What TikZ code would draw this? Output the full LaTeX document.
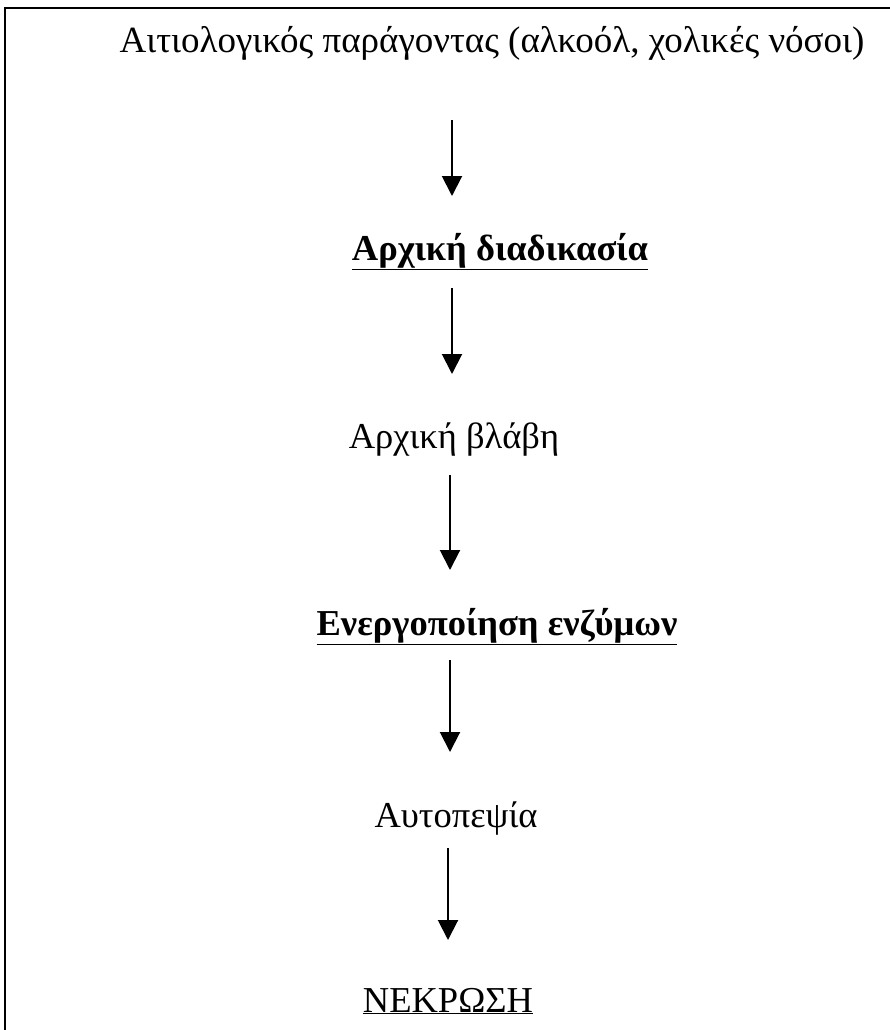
\documentclass[tikz,border=0pt]{standalone}
\usepackage{fontspec}
\setmainfont{Liberation Serif}
\usetikzlibrary{arrows.meta}
\begin{document}
\begin{tikzpicture}[x=1pt,y=-1pt,
  lbl/.style={inner sep=0pt, anchor=base, font=\fontsize{36.5}{42}\selectfont},
  blbl/.style={lbl, font=\fontsize{36.5}{42}\selectfont\bfseries},
  flow/.style={line width=2pt, -{Triangle[width=20pt,length=20pt]}},
  frame/.style={line width=2.5pt}]
\useasboundingbox (0,0) rectangle (890,1030);
\coordinate (tl) at (5,8);
\coordinate (tr) at (890,8);
\coordinate (bl) at (5,1030);
\draw[frame] (tr) -- (tl) -- (bl);
\node[lbl, font=\fontsize{37}{42}\selectfont] (a) at (492,53) {Αιτιολογικός παράγοντας (αλκοόλ, χολικές νόσοι)};
\node[blbl] (b) at (500,260) {\underline{Αρχική διαδικασία}};
\node[lbl] (c) at (454,448) {Αρχική βλάβη};
\node[blbl] (d) at (497,635) {\underline{Ενεργοποίηση ενζύμων}};
\node[lbl] (e) at (456,827) {Αυτοπεψία};
\node[lbl] (f) at (448,1012) {\underline{ΝΕΚΡΩΣΗ}};
\coordinate (a1) at (452,120); \coordinate (a2) at (452,196);
\coordinate (b1) at (452,288); \coordinate (b2) at (452,374);
\coordinate (c1) at (450,475); \coordinate (c2) at (450,570);
\coordinate (d1) at (450,660); \coordinate (d2) at (450,752);
\coordinate (e1) at (448,848); \coordinate (e2) at (448,940);
\draw[flow] (a1) -- (a2);
\draw[flow] (b1) -- (b2);
\draw[flow] (c1) -- (c2);
\draw[flow] (d1) -- (d2);
\draw[flow] (e1) -- (e2);
\end{tikzpicture}
\end{document}
